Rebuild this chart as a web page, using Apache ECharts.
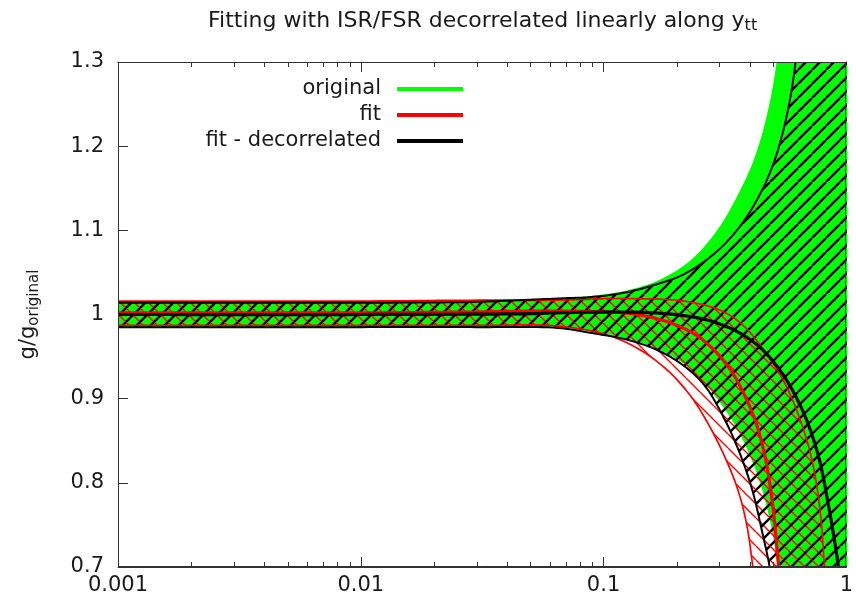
<!DOCTYPE html>
<html><head><meta charset="utf-8">
<script src="https://cdn.jsdelivr.net/npm/echarts@6/dist/echarts.min.js"></script>
<style>html,body{margin:0;padding:0;background:#fff}#c{width:856px;height:605px}</style>
</head><body><div id="c"></div>
<script>
// ---- data ----
const xTickLabels = ['0.001', '0.01', '0.1', '1'];
const yTickLabels = ['0.7', '0.8', '0.9', '1', '1.1', '1.2', '1.3'];
const xMinorTicks = [0.002,0.003,0.004,0.005,0.006,0.007,0.008,0.009,
                     0.02,0.03,0.04,0.05,0.06,0.07,0.08,0.09,
                     0.2,0.3,0.4,0.5,0.6,0.7,0.8,0.9];

// original (green band)
const originalMidX  = [0.001, 1];
const originalMidY  = [1.0, 1.0];
const originalHighX = [0.001, 0.01, 0.03, 0.0647, 0.0885, 0.1219, 0.1664, 0.2273, 0.2935, 0.354, 0.4158, 0.47, 0.5164, 0.557];
const originalHighY = [1.016, 1.016, 1.017, 1.019, 1.022, 1.028, 1.040, 1.064, 1.10, 1.14, 1.184, 1.236, 1.30, 1.40];
const originalLowX  = [0.001, 0.01, 0.03, 0.0647, 0.1219, 0.1664, 0.2148, 0.2618, 0.3132, 0.3608, 0.4043, 0.4441, 0.4788, 0.502, 0.5214, 0.5518];
const originalLowY  = [0.984, 0.984, 0.984, 0.9851, 0.9721, 0.959, 0.9412, 0.9174, 0.889, 0.8604, 0.8295, 0.7975, 0.7618, 0.7321, 0.70, 0.643];

// fit (red band)
const fitMidX  = [0.001, 0.01, 0.03, 0.0647, 0.1418, 0.221, 0.2797, 0.3378, 0.389, 0.4276, 0.4656, 0.4974, 0.5262, 0.5467];
const fitMidY  = [1.002, 1.002, 1.003, 1.004, 0.9994, 0.9816, 0.9602, 0.9317, 0.8984, 0.8687, 0.8271, 0.7737, 0.70, 0.637];
const fitHighX = [0.001, 0.01, 0.03, 0.0647, 0.1219, 0.2273, 0.3132, 0.3784, 0.4569, 0.5518, 0.6418, 0.7188, 0.775, 0.8128, 0.836];
const fitHighY = [1.016, 1.016, 1.017, 1.017, 1.019, 1.0149, 1.003, 0.9863, 0.9578, 0.921, 0.877, 0.8295, 0.7737, 0.70, 0.637];
const fitLowX  = [0.001, 0.01, 0.03, 0.0647, 0.1039, 0.1418, 0.1829, 0.2252, 0.2643, 0.3132, 0.3576, 0.389, 0.412, 0.44];
const fitLowY  = [0.987, 0.987, 0.987, 0.9863, 0.9756, 0.9578, 0.934, 0.9055, 0.8747, 0.8331, 0.7915, 0.7499, 0.70, 0.637];

// fit - decorrelated (black band)
const decMidX  = [0.001, 0.01, 0.05, 0.0647, 0.1664, 0.2668, 0.3643, 0.4526, 0.5467, 0.63, 0.6986, 0.775, 0.8436, 0.893, 0.927, 0.963];
const decMidY  = [1.000, 1.000, 1.001, 1.002, 1.0018, 0.9935, 0.978, 0.9578, 0.9293, 0.8984, 0.8687, 0.8271, 0.7737, 0.7321, 0.70, 0.649];
const decHighX = [0.001, 0.01, 0.03, 0.045, 0.0647, 0.091, 0.122, 0.166, 0.2148, 0.285, 0.354, 0.428, 0.502, 0.568, 0.618, 0.66];
const decHighY = [1.014, 1.014, 1.015, 1.017, 1.019, 1.021, 1.026, 1.036, 1.048, 1.072, 1.10, 1.136, 1.18, 1.236, 1.30, 1.40];
const decLowX  = [0.001, 0.01, 0.03, 0.0647, 0.0944, 0.1219, 0.1664, 0.2148, 0.2618, 0.3162, 0.3678, 0.412, 0.4484, 0.4835, 0.5164];
const decLowY  = [0.985, 0.985, 0.985, 0.984, 0.9768, 0.9709, 0.9578, 0.9388, 0.915, 0.8747, 0.8319, 0.7891, 0.744, 0.70, 0.649];

// ---- styling / rendering ----
const FONT = 'DejaVu Sans';
const TXT = '#1a1a1a';
const AX = '#333';
const X_MIN = 0.001, X_MAX = 1, Y_MIN = 0.7, Y_MAX = 1.3;
const GREEN = '#00ff00', RED = '#ff0000', BLACK = '#000000';

// centripetal Catmull-Rom smoothing of pixel points (render-time smoothing only)
function smoothPts(pts, n) {
  if (pts.length < 3) return pts.slice();
  const L = pts.length;
  const P = [[2 * pts[0][0] - pts[1][0], 2 * pts[0][1] - pts[1][1]]]
    .concat(pts, [[2 * pts[L - 1][0] - pts[L - 2][0], 2 * pts[L - 1][1] - pts[L - 2][1]]]);
  const d = (a, b) => Math.max(Math.pow(Math.hypot(b[0] - a[0], b[1] - a[1]), 0.5), 1e-4);
  const mix = (a, b, wa, wb) => [a[0] * wa + b[0] * wb, a[1] * wa + b[1] * wb];
  const out = [];
  for (let i = 1; i < P.length - 2; i++) {
    const p0 = P[i - 1], p1 = P[i], p2 = P[i + 1], p3 = P[i + 2];
    const t0 = 0, t1 = t0 + d(p0, p1), t2 = t1 + d(p1, p2), t3 = t2 + d(p2, p3);
    for (let j = 0; j < n; j++) {
      const t = t1 + (t2 - t1) * j / n;
      const A1 = mix(p0, p1, (t1 - t) / (t1 - t0), (t - t0) / (t1 - t0));
      const A2 = mix(p1, p2, (t2 - t) / (t2 - t1), (t - t1) / (t2 - t1));
      const A3 = mix(p2, p3, (t3 - t) / (t3 - t2), (t - t2) / (t3 - t2));
      const B1 = mix(A1, A2, (t2 - t) / (t2 - t0), (t - t0) / (t2 - t0));
      const B2 = mix(A2, A3, (t3 - t) / (t3 - t1), (t - t1) / (t3 - t1));
      out.push(mix(B1, B2, (t2 - t) / (t2 - t1), (t - t1) / (t2 - t1)));
    }
  }
  out.push(pts[L - 1]);
  return out;
}

function hatch(dir, color, width, size) {
  const c = document.createElement('canvas');
  c.width = size; c.height = size;
  const g = c.getContext('2d');
  g.strokeStyle = color; g.lineWidth = width;
  g.beginPath();
  for (let k = -1; k <= 1; k++) {
    if (dir === '/') { g.moveTo(k * size, size); g.lineTo(k * size + size, 0); }
    else { g.moveTo(k * size, 0); g.lineTo(k * size + size, size); }
  }
  g.stroke();
  return c;
}

function bandSeries(hx, hy, lx, ly, fill, z, extendRight) {
  return {
    type: 'custom', z: z, clip: true, silent: true,
    data: [[hx[0], hy[0]]],
    renderItem: function (params, api) {
      const up = smoothPts(hx.map((x, i) => api.coord([x, hy[i]])), 14);
      const lo = smoothPts(lx.map((x, i) => api.coord([x, ly[i]])), 14).reverse();
      let pts = up.slice();
      if (extendRight) {
        const cs = params.coordSys;
        const xr = cs.x + cs.width + 80;
        pts.push([xr, up[up.length - 1][1]]);
        pts.push([xr, lo[0][1]]);
      }
      pts = pts.concat(lo);
      return { type: 'polygon', shape: { points: pts }, style: { fill: fill, stroke: null } };
    }
  };
}

function curveSeries(name, xs, ys, color, width, z) {
  return {
    type: 'custom', name: name, z: z, clip: true, silent: true,
    data: [[xs[0], ys[0]]],
    renderItem: function (params, api) {
      const pts = smoothPts(xs.map((x, i) => api.coord([x, ys[i]])), 14);
      return { type: 'polyline', shape: { points: pts },
               style: { stroke: color, lineWidth: width, fill: null, lineJoin: 'round' } };
    }
  };
}

const redHatch = { image: hatch('\\', RED, 1.4, 14), repeat: 'repeat' };
const blackHatch = { image: hatch('/', BLACK, 2.4, 14), repeat: 'repeat' };

const chart = echarts.init(document.getElementById('c'), null, { renderer: 'canvas' });

function legendOf(name, color, top) {
  return {
    data: [{ name: name, itemStyle: { color: color } }],
    orient: 'vertical', align: 'right', icon: 'rect',
    right: 393, top: top, padding: 0,
    itemWidth: 66, itemHeight: 4, selectedMode: false,
    textStyle: { fontFamily: FONT, fontSize: 21, color: TXT, lineHeight: 24, padding: [0, 11, 0, 0] }
  };
}

const option = {
  backgroundColor: '#fff',
  animation: false,
  title: {
    text: '{m|Fitting with ISR/FSR decorrelated linearly along y}{s|tt}',
    left: 208, top: 8, padding: 0,
    textStyle: {
      fontWeight: 'normal',
      rich: {
        m: { fontFamily: FONT, fontSize: 22, fontWeight: 'normal', color: TXT, lineHeight: 26 },
        s: { fontFamily: FONT, fontSize: 16, fontWeight: 'normal', color: TXT, lineHeight: 10, verticalAlign: 'bottom' }
      }
    }
  },
  legend: [legendOf('original', GREEN, 77), legendOf('fit', RED, 103), legendOf('fit - decorrelated', BLACK, 129)],
  grid: { left: 118, right: 6, top: 62, bottom: 38, containLabel: false },
  xAxis: [{
    type: 'log', logBase: 10, min: X_MIN, max: X_MAX, position: 'bottom',
    axisLine: { lineStyle: { color: AX, width: 1 } },
    axisTick: { inside: true, length: 10, lineStyle: { color: AX } },
    splitLine: { show: false },
    axisLabel: { fontFamily: FONT, fontSize: 21, color: TXT, margin: 8,
      formatter: v => { const s = String(Number(v.toPrecision(6))); return xTickLabels.indexOf(s) >= 0 ? s : ''; } }
  }, {
    type: 'log', logBase: 10, min: X_MIN, max: X_MAX, position: 'top',
    axisLine: { lineStyle: { color: AX, width: 1 } },
    axisTick: { inside: true, length: 10, lineStyle: { color: AX } },
    splitLine: { show: false }, axisLabel: { show: false }
  }],
  yAxis: [{
    type: 'value', min: Y_MIN, max: Y_MAX, interval: 0.1, position: 'left',
    name: '{a|g/g}{b|original}', nameLocation: 'middle', nameGap: 76, nameRotate: 90,
    nameTextStyle: { rich: {
      a: { fontFamily: FONT, fontSize: 21, color: TXT, lineHeight: 26 },
      b: { fontFamily: FONT, fontSize: 15, color: TXT, lineHeight: 10, verticalAlign: 'bottom' } } },
    axisLine: { show: true, lineStyle: { color: AX, width: 1 } },
    axisTick: { show: true, inside: true, length: 10, lineStyle: { color: AX } },
    splitLine: { show: false },
    axisLabel: { fontFamily: FONT, fontSize: 21, color: TXT, margin: 14,
      formatter: v => { const s = String(Number(v.toFixed(1))); return yTickLabels.indexOf(s) >= 0 ? s : ''; } }
  }, {
    type: 'value', min: Y_MIN, max: Y_MAX, interval: 0.1, position: 'right',
    axisLine: { show: true, lineStyle: { color: AX, width: 1 } },
    axisTick: { show: true, inside: true, length: 10, lineStyle: { color: AX } },
    splitLine: { show: false }, axisLabel: { show: false }
  }],
  series: [
    {
      type: 'custom', z: 1, silent: true, clip: false,
      data: xMinorTicks.map(v => [v, 1]),
      renderItem: function (params, api) {
        const b = api.coord([api.value(0), Y_MIN]);
        const t = api.coord([api.value(0), Y_MAX]);
        const x = Math.round(b[0]) + 0.5;
        return { type: 'group', children: [
          { type: 'line', shape: { x1: x, y1: b[1], x2: x, y2: b[1] - 5 }, style: { stroke: AX, lineWidth: 1 } },
          { type: 'line', shape: { x1: x, y1: t[1], x2: x, y2: t[1] + 5 }, style: { stroke: AX, lineWidth: 1 } }
        ] };
      }
    },
    bandSeries(originalHighX, originalHighY, originalLowX, originalLowY, GREEN, 2, true),
    curveSeries('original', originalMidX, originalMidY, GREEN, 3, 2.5),
    bandSeries(fitHighX, fitHighY, fitLowX, fitLowY, redHatch, 3, false),
    bandSeries(decHighX, decHighY, decLowX, decLowY, blackHatch, 4, true),
    curveSeries('fit', fitHighX, fitHighY, RED, 1.7, 5),
    curveSeries('fit', fitLowX, fitLowY, RED, 1.7, 5),
    curveSeries('fit', fitMidX, fitMidY, RED, 3.2, 5),
    curveSeries('fit - decorrelated', decHighX, decHighY, BLACK, 2, 6),
    curveSeries('fit - decorrelated', decLowX, decLowY, BLACK, 2, 6),
    curveSeries('fit - decorrelated', decMidX, decMidY, BLACK, 3.2, 6),
    {
      type: 'custom', z: 10, silent: true, clip: false,
      data: [[X_MIN, Y_MIN]],
      renderItem: function (params, api) {
        const a = api.coord([X_MIN, Y_MAX]);
        const b = api.coord([X_MAX, Y_MIN]);
        const x1 = Math.round(a[0]) + 0.5, y1 = Math.round(a[1]) + 0.5;
        const x2 = Math.round(b[0]) - 0.5, y2 = Math.round(b[1]) - 0.5;
        return { type: 'rect', shape: { x: x1, y: y1, width: x2 - x1, height: y2 - y1 },
                 style: { stroke: AX, lineWidth: 1, fill: null } };
      }
    }
  ]
};
chart.setOption(option);
</script>
</body></html>
